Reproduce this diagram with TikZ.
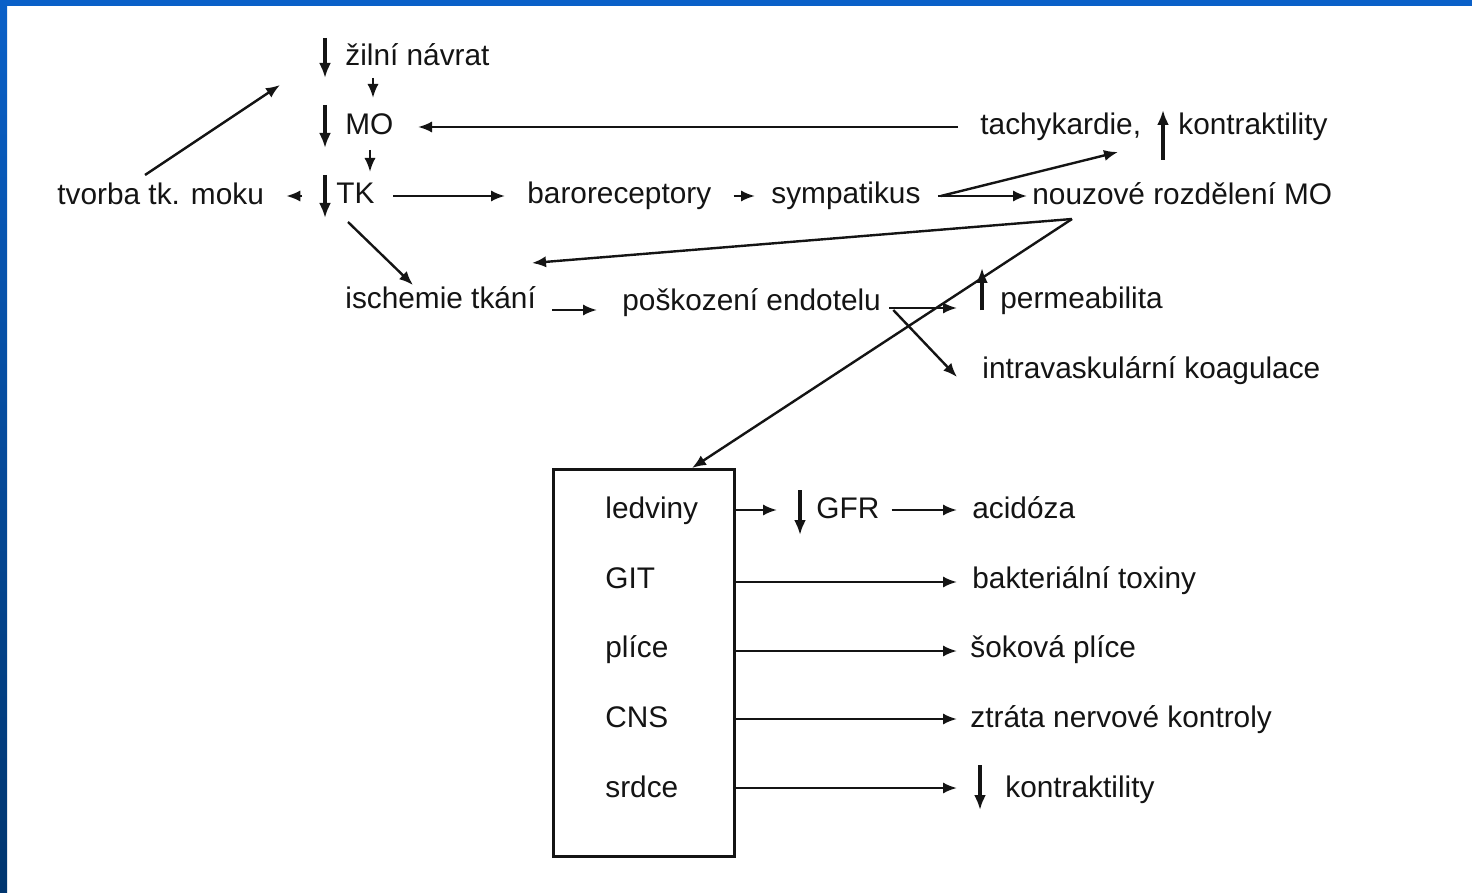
\documentclass[tikz,border=0pt]{standalone}
\usepackage{fontspec}
\setmainfont{Liberation Sans}
\usetikzlibrary{calc,arrows.meta}
\definecolor{ink}{HTML}{141414}
\definecolor{slideblue}{HTML}{0A60C8}
\definecolor{slidenavy}{HTML}{00356E}
\begin{document}
\begin{tikzpicture}[x=0.5pt,y=-0.5pt,
  lbl/.style={anchor=base west,inner sep=0pt,text=ink,font=\fontsize{14.9pt}{17pt}\selectfont},
  arr/.style={draw=ink,line width=1.2pt,-{Latex[length=7pt,width=5.6pt]}},
  glyph/.style={draw=ink,line width=1.6pt,-{Latex[length=7.5pt,width=6pt]}},
  organbox/.style={draw=ink,line width=1.3pt,anchor=north west,inner sep=0pt,minimum width=90.5pt,minimum height=193.5pt}]
% background and slide border
\useasboundingbox (0,0) rectangle (1472,893);
\fill[white] (0,0) rectangle (1472,893);
\fill[slideblue] (0,0) rectangle (1472,6);
\shade[top color=slideblue,bottom color=slidenavy] (0,0) rectangle (7,893);

% upper part
\node[lbl] (zil) at (345,66) {žilní návrat};
\node[lbl] (mo) at (345,135) {MO};
\node[lbl] (tk) at (336,204) {TK};
\node[lbl] (tvorba) at (57,205) {tvorba tk. moku};
\node[lbl] (baro) at (527,204) {baroreceptory};
\node[lbl] (symp) at (771,204) {sympatikus};
\node[lbl] (nouz) at (1032,205) {nouzové rozdělení MO};
\node[lbl] (tachy) at (980,135) {tachykardie,};
\node[lbl] (kontr) at (1178,135) {kontraktility};
\node[lbl] (isch) at (345,308) {ischemie tkání};
\node[lbl] (posk) at (622,310) {poškození endotelu};
\node[lbl] (perm) at (1000,308) {permeabilita};
\node[lbl] (intra) at (982,378) {intravaskulární koagulace};

% organ box
\node[organbox] (box) at (552,468) {};
\node[lbl] (ledv) at (605,518) {ledviny};
\node[lbl] (git) at (605,588) {GIT};
\node[lbl] (plic) at (605,657) {plíce};
\node[lbl] (cns) at (605,727) {CNS};
\node[lbl] (srdc) at (605,797) {srdce};

\node[lbl] (gfr) at (816,518) {GFR};
\node[lbl] (acid) at (972,518) {acidóza};
\node[lbl] (bakt) at (972,588) {bakteriální toxiny};
\node[lbl] (sok) at (970,657) {šoková plíce};
\node[lbl] (ztrat) at (970,727) {ztráta nervové kontroly};
\node[lbl] (kontrb) at (1005,797) {kontraktility};

% up / down glyph arrows
\draw[glyph] ($(zil.base west)+(-20,-28)$) -- ($(zil.base west)+(-20,12)$);
\draw[glyph] ($(mo.base west)+(-20,-30)$) -- ($(mo.base west)+(-20,13)$);
\draw[glyph] ($(tk.base west)+(-11,-29)$) -- ($(tk.base west)+(-11,14)$);
\draw[glyph] ($(kontr.base west)+(-15,25)$) -- ($(kontr.base west)+(-15,-25)$);
\draw[glyph] ($(perm.base west)+(-18,2)$) -- ($(perm.base west)+(-18,-40)$);
\draw[glyph] ($(gfr.base west)+(-16,-28)$) -- ($(gfr.base west)+(-16,17)$);
\draw[glyph] ($(kontrb.base west)+(-25,-32)$) -- ($(kontrb.base west)+(-25,13)$);

% connectors
\draw[arr] ($(zil.base west)+(28,12)$) -- ($(mo.base west)+(28,-37)$);
\draw[arr] ($(mo.base west)+(25,15)$) -- ($(tk.base west)+(34,-32)$);
\draw[arr] ($(tk.base west)+(-34,-8)$) -- ($(tvorba.base east)+(22,-9)$);
\draw[arr] ($(tvorba.base west)+(88,-30)$) -- ($(zil.base west)+(-65,19)$);
\draw[arr] ($(tk.base west)+(57,-8)$) -- ($(baro.base west)+(-22,-8)$);
\draw[arr] ($(baro.base east)+(22,-8)$) -- ($(symp.base west)+(-16,-8)$);
\draw[arr] ($(symp.base east)+(17,-8)$) -- ($(nouz.base west)+(-5,-9)$);
\draw[arr] ($(symp.base east)+(20,-8)$) -- ($(tachy.base west)+(138,17)$);
\draw[arr] ($(tachy.base west)+(-22,-8)$) -- ($(mo.base west)+(73,-8)$);
\draw[arr] ($(nouz.base west)+(40,14)$) -- ($(isch.base west)+(187,-45)$);
\draw[arr] ($(nouz.base west)+(40,14)$) -- ($(box.north west)+(140,0)$);
\draw[arr] ($(tk.base west)+(12,18)$) -- ($(isch.base west)+(68,-23)$);
\draw[arr] ($(isch.base east)+(16,2)$) -- ($(posk.base west)+(-25,0)$);
\draw[arr] ($(posk.base east)+(8,-2)$) -- ($(perm.base west)+(-43,0)$);
\draw[arr] ($(posk.base east)+(12,0)$) -- ($(intra.base west)+(-25,-1)$);

% organ outputs
\draw[arr] ($(ledv.base west)+(128,-8)$) -- ($(gfr.base west)+(-39,-8)$);
\draw[arr] ($(gfr.base east)+(12,-8)$) -- ($(acid.base west)+(-15,-8)$);
\draw[arr] ($(git.base west)+(128,-6)$) -- ($(bakt.base west)+(-15,-6)$);
\draw[arr] ($(plic.base west)+(128,-6)$) -- ($(sok.base west)+(-13,-6)$);
\draw[arr] ($(cns.base west)+(128,-8)$) -- ($(ztrat.base west)+(-13,-8)$);
\draw[arr] ($(srdc.base west)+(128,-9)$) -- ($(kontrb.base west)+(-48,-9)$);
\end{tikzpicture}
\end{document}
